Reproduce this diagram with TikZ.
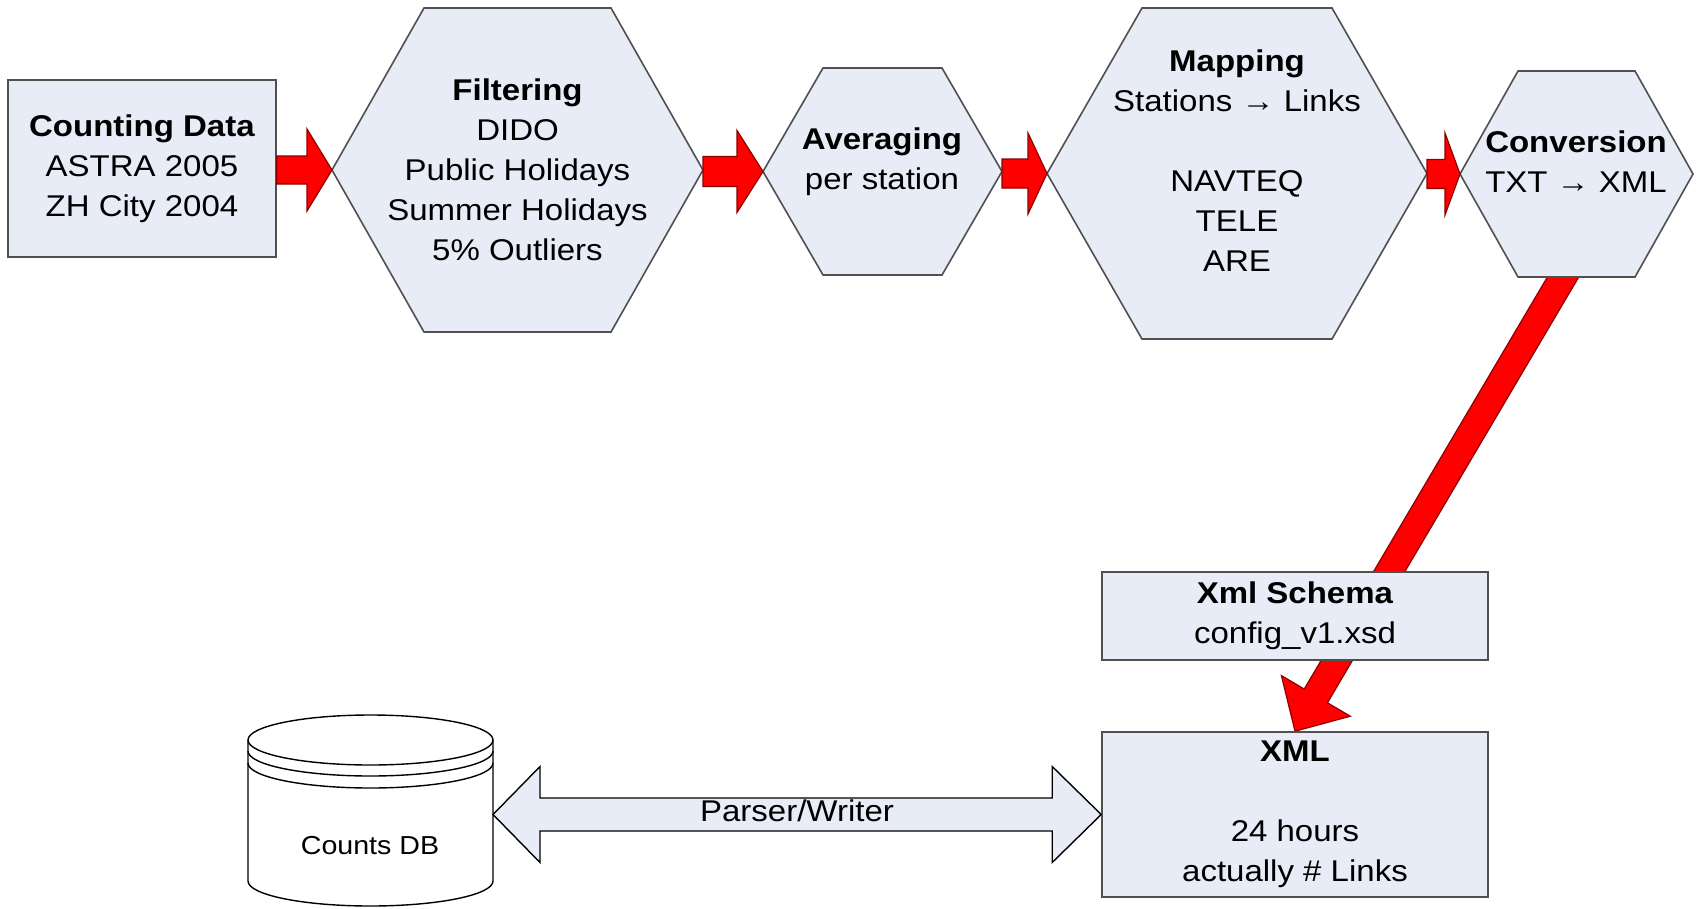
\documentclass[tikz,border=0pt]{standalone}
\usepackage{fontspec}
\setmainfont{Liberation Sans}[FakeStretch=1.1]
\usetikzlibrary{calc,backgrounds}

\definecolor{boxfill}{HTML}{E8ECF7}
\definecolor{boxline}{HTML}{505050}
\definecolor{arrowred}{HTML}{FF0000}
\definecolor{arrowline}{HTML}{8C0000}

\tikzset{
  shapeline/.style={draw=boxline, line width=1.6, fill=boxfill},
  procbox/.style={shapeline, rectangle, inner sep=0, align=center},
  hexcore/.style={inner sep=0, outer sep=0},
  txt/.style={align=center, inner sep=0},
  redarrow/.style={fill=arrowred, draw=arrowline, line width=1.2},
  dblarrow/.style={fill=boxfill, draw=black, line width=1.4},
  cylline/.style={draw=black, line width=1.4, fill=white},
}

% block arrow: style, from, tip, shaft half width, head half width, head length
\newcommand\blockarrow[6]{%
  \path (#2) coordinate (ba-s) (#3) coordinate (ba-t);
  \path ($(ba-t)!#6!(ba-s)$) coordinate (ba-h);
  \draw[#1] ($(ba-s)!#4!90:(ba-t)$) -- ($(ba-h)!#4!90:(ba-t)$)
    -- ($(ba-h)!#5!90:(ba-t)$) -- (ba-t) -- ($(ba-h)!#5!-90:(ba-t)$)
    -- ($(ba-h)!#4!-90:(ba-t)$) -- ($(ba-s)!#4!-90:(ba-t)$) -- cycle;
}

% hexagon outline round a node: name, slant
\newcommand\hexoutline[2]{%
  \draw[shapeline] (#1.west) -- ([xshift=#2]#1.north west)
    -- ([xshift=-#2]#1.north east) -- (#1.east)
    -- ([xshift=-#2]#1.south east) -- ([xshift=#2]#1.south west) -- cycle;
}

\begin{document}
\begin{tikzpicture}[x=1pt, y=-1pt, font=\fontsize{30}{40}\selectfont]
  \useasboundingbox (0,0) rectangle (1700,908);

  % top row
  \node[procbox, minimum width=268, minimum height=177] (count) at (142,168.5)
    {\textbf{Counting Data}\\ASTRA 2005\\ZH City 2004};
  \node[hexcore, minimum width=371, minimum height=324] (filter) at (517.5,170) {};
  \node[hexcore, minimum width=239, minimum height=207] (avg) at (882.5,171.5) {};
  \node[hexcore, minimum width=380, minimum height=331] (map) at (1237,173.5) {};
  \node[hexcore, minimum width=233, minimum height=206] (conv) at (1576.5,174) {};

  % bottom row
  \node[procbox, minimum width=386, minimum height=165] (xml) at (1295,814.5)
    {\textbf{XML}\\[40pt]24 hours\\actually \# Links};
  \node[hexcore, minimum width=245, minimum height=191] (db) at (370.5,810.5) {};
  \coordinate (cstart) at (1579,250);

  \begin{scope}[on background layer]
    \blockarrow{redarrow}{cstart}{xml.north}{13.5pt}{40pt}{41pt}
    \hexoutline{filter}{92}
    \hexoutline{avg}{60}
    \hexoutline{map}{95}
    \hexoutline{conv}{58}
  \end{scope}

  \node[procbox, minimum width=386, minimum height=88] (schema) at (1295,616)
    {\textbf{Xml Schema}\\config\_v1.xsd};

  \node[txt] (filtertxt) at (filter)
    {\textbf{Filtering}\\DIDO\\Public Holidays\\Summer Holidays\\5\% Outliers};
  \node[txt] (avgtxt) at (882,162) {\textbf{Averaging}\\per station};
  \node[txt] (maptxt) at (1237,161)
    {\textbf{Mapping}\\Stations → Links\\[40pt]NAVTEQ\\TELE\\ARE};
  \node[txt] (convtxt) at (1576,162) {\textbf{Conversion}\\TXT → XML};

  \blockarrow{redarrow}{count.east |- filter.west}{filter.west}{14pt}{41pt}{25pt}
  \blockarrow{redarrow}{filter.east |- avg.west}{avg.west}{15pt}{41pt}{26pt}
  \blockarrow{redarrow}{avg.east |- map.west}{map.west}{14.5pt}{40.5pt}{19pt}
  \blockarrow{redarrow}{map.east |- conv.west}{conv.west}{14.5pt}{41pt}{15pt}

  % database
  \draw[cylline] (248,740) -- (248,881)
    arc[start angle=180, end angle=360, x radius=122.5pt, y radius=25pt] -- (493,740);
  \draw[cylline] (370.5,740) ellipse[x radius=122.5pt, y radius=25pt];
  \draw[cylline, fill=none] (248,751)
    arc[start angle=180, end angle=360, x radius=122.5pt, y radius=25pt];
  \draw[cylline, fill=none] (248,763)
    arc[start angle=180, end angle=360, x radius=122.5pt, y radius=25pt];
  \node[txt, font=\fontsize{26}{32}\selectfont] (dbtxt) at (370,846) {Counts DB};

  % parser / writer
  \coordinate (pw-l) at (db.east |- xml.west);
  \draw[dblarrow] (pw-l) -- ($(pw-l)+(47,-48)$) -- ($(pw-l)+(47,-16.5)$)
    -- ($(xml.west)+(-49,-16.5)$) -- ($(xml.west)+(-49,-48)$) -- (xml.west)
    -- ($(xml.west)+(-49,48)$) -- ($(xml.west)+(-49,16.5)$)
    -- ($(pw-l)+(47,16.5)$) -- ($(pw-l)+(47,48)$) -- cycle;
  \node[txt] (pwtxt) at (797,811) {Parser/Writer};
\end{tikzpicture}
\end{document}
